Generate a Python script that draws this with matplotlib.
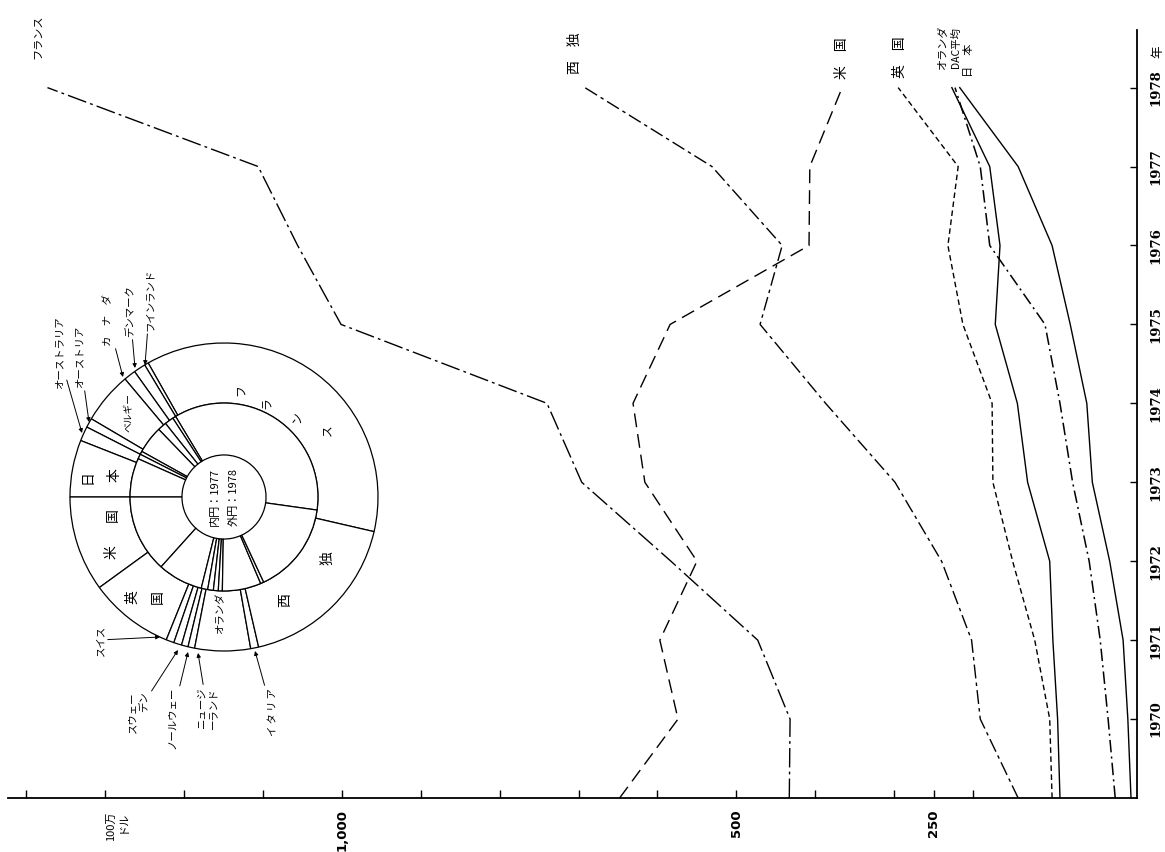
#DAC countries: yearly values 1969-1978 (rotated page layout)
#lines: value axis at the bottom (grows to the left), years on the right

import numpy as np
import matplotlib
matplotlib.use("Agg")
import matplotlib.pyplot as plt
from matplotlib.transforms import blended_transform_factory

plt.rcParams['font.family'] = ['Noto Sans CJK JP', 'DejaVu Sans']
plt.rcParams['lines.scale_dashes'] = False

years = [1969, 1970, 1971, 1972, 1973, 1974, 1975, 1976, 1977, 1978]
france = [433, 432, 473, 583, 696, 740, 1001, 1056, 1106, 1373]
w_germany = [143, 191, 202, 240, 299, 387, 470, 442, 531, 692]
usa = [648, 574, 597, 550, 616, 631, 584, 408, 407, 366]
uk = [100, 103, 122, 150, 175, 176, 213, 232, 219, 295]
netherlands = [90, 93, 99, 103, 131, 144, 172, 166, 179, 227]
dac_avg = [20, 29, 39, 53, 74, 90, 109, 179, 191, 223]
japan = [0, 4, 10, 27, 49, 56, 77, 100, 143, 217]

value_ticks = [200, 250, 300, 400, 500, 600, 700, 800, 900, 1000, 1100, 1200, 1300, 1400]
value_labels = ['', '250', '', '', '500', '', '', '', '', '1,000', '', '', '', '']
year_ticks = [1970, 1971, 1972, 1973, 1974, 1975, 1976, 1977, 1978]

#donut: inner ring = 1977, outer ring = 1978 (shares read as degrees)
countries = ['フランス', 'フィンランド', 'デンマーク', 'カナダ', 'ベルギー', 'オーストリア',
             'オーストラリア', '日本', '米国', '英国', 'スイス', 'スウェーデン',
             'ノールウェー', 'ニュージーランド', 'オランダ', 'イタリア', '西独']
share_1978 = [132.5, 1.5, 4.5, 4.5, 19.5, 3.5, 5.5, 21.5, 36, 32, 3, 3, 2.5, 2.5, 21, 3, 64]
share_1977 = [129, 2, 5.5, 5.5, 17, 2, 3, 24, 48, 28, 4, 3.5, 3, 2.5, 24, 2, 57]

W, H = 1165, 852
fig = plt.figure(figsize=(W/100, H/100), dpi=100)
ax = fig.add_axes([8/W, 54/H, 1129/W, 768/H])

def ftext(x, y, s, **kw):
    fig.text(x/W, 1-y/H, s, rotation=90, ha='center', va='center', **kw)

#lines
ax.plot(france, years, color='black', lw=1.0, dashes=(14, 3, 2, 3))
ax.plot(w_germany, years, color='black', lw=1.0, dashes=(10, 3, 2.5, 3))
ax.plot(usa, years, color='black', lw=1.0, dashes=(10, 5))
ax.plot(uk, years, color='black', lw=1.0, dashes=(4, 2.5))
ax.plot(netherlands, years, color='black', lw=1.0)
ax.plot(dac_avg, years, color='black', lw=1.1, dashes=(9, 3, 1.5, 3))
ax.plot(japan, years, color='black', lw=1.0)

ax.set_xlim(1423, -7.6)
ax.set_ylim(1969, 1978.73)
for s in ['top', 'left']:
    ax.spines[s].set_visible(False)
for s in ['bottom', 'right']:
    ax.spines[s].set_linewidth(1.3)

ax.yaxis.tick_right()
ax.set_yticks(year_ticks)
ax.set_yticklabels([str(y) for y in year_ticks], rotation=90, va='center',
                   family='DejaVu Serif', fontweight='bold', fontsize=9.5)
ax.tick_params(axis='y', direction='in', length=5, width=1, pad=9, right=True, left=False)

ax.set_xticks(value_ticks)
ax.set_xticklabels(value_labels, rotation=90, va='top', family='DejaVu Sans',
                   fontweight='bold', fontsize=9.5)
ax.tick_params(axis='x', direction='in', length=6, width=1, pad=8)

trans = blended_transform_factory(ax.transData, ax.transAxes)
ax.text(1285, -0.017, '100万\nドル', transform=trans, rotation=90, ha='center', va='top',
        multialignment='right', fontsize=8)
ftext(1158, 52, '年', fontsize=9)

#series names at the top
ftext(38, 37, 'フランス', fontsize=8)
ftext(575, 53, '西　独', fontsize=10)
ftext(842, 58, '米　国', fontsize=10)
ftext(900, 57, '英　国', fontsize=10)
ftext(943, 48, 'オランダ', fontsize=8)
ftext(956, 48, 'DAC平均', fontsize=7.5)
ftext(969, 60, '日　本', fontsize=8)

#donut inset
cx, cy, R = 224, 497, 154
axp = fig.add_axes([(cx-160)/W, (H-cy-160)/H, 320/W, 320/H])
wp = dict(facecolor='white', edgecolor='black', linewidth=0.9)
axp.pie(share_1978, radius=1.0, startangle=-13, counterclock=True,
        wedgeprops=dict(width=0.39, **wp))
axp.pie(share_1977, radius=0.61, startangle=-8, counterclock=True,
        wedgeprops=dict(width=0.337, **wp))
axp.set_xlim(-160/R, 160/R)
axp.set_ylim(-160/R, 160/R)
axp.set_aspect('equal')
axp.axis('off')

def dpos(x, y):
    return ((x-cx)/R, (cy-y)/R)

def dtext(x, y, s, size=10):
    axp.text(*dpos(x, y), s, rotation=90, ha='center', va='center', fontsize=size)

for ch, (x, y) in zip('フランス', [(240, 390), (267, 403), (297, 417), (327, 430)]):
    dtext(x, y, ch, 8.5)
dtext(285, 600, '西')
dtext(328, 558, '独')
dtext(112, 552, '米')
dtext(113, 515, '国')
dtext(132, 597, '英')
dtext(158, 597, '国')
dtext(88, 477, '日')
dtext(115, 475, '本')
dtext(128, 413, 'ベルギー', 7)
dtext(220, 613, 'オランダ', 7.5)
dtext(215, 497, '内円：1977', 8)
dtext(234, 497, '外円：1978', 8)

arrow = dict(arrowstyle='-|>', color='black', lw=0.7, mutation_scale=6, shrinkA=0, shrinkB=0)
callouts = [
    ('オーストラリア', (59, 353), (82, 433)),
    ('オーストリア', (80, 357), (89, 422)),
    ('カ　ナ　ダ', (108, 320), (123, 377)),
    ('デンマーク', (130, 311), (135, 368)),
    ('フインランド', (150, 300), (145, 365)),
    ('スイス', (100, 640), (160, 637)),
    ('スウェー\nデン', (138, 712), (178, 650)),
    ('ノールウェー', (172, 718), (188, 652)),
    ('ニュージ\nーランド', (207, 708), (198, 653)),
    ('イ\u2009タ\u2009リ\u2009ア', (272, 712), (255, 651)),
]
for s, tpos, target in callouts:
    axp.annotate(s, xy=dpos(*target), xytext=dpos(*tpos), rotation=90,
                 ha='center', va='center', fontsize=7.5, multialignment='right',
                 arrowprops=arrow, annotation_clip=False)

fig.savefig('out.png', dpi=100, facecolor='white')
